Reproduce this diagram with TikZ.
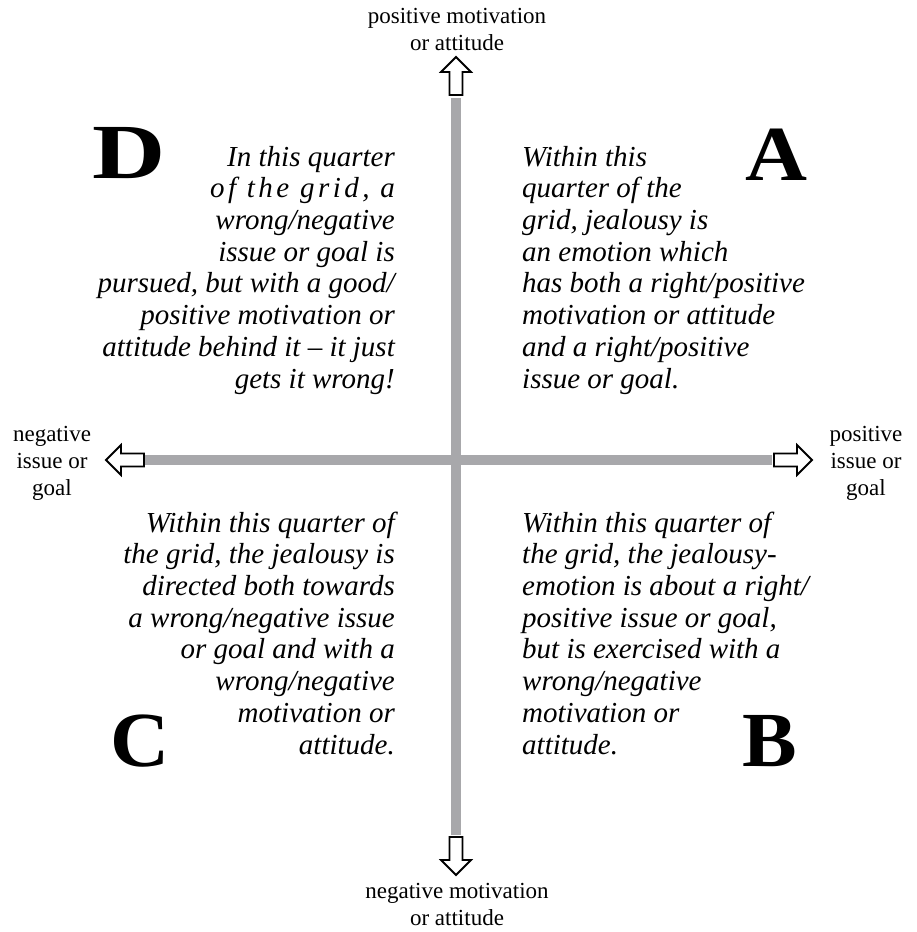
\documentclass[tikz,border=0pt]{standalone}
\usepackage{fontspec}
\setmainfont{Liberation Serif}
\usetikzlibrary{positioning}
\definecolor{axisgray}{RGB}{168,168,171}

\begin{document}
\begin{tikzpicture}[x=1pt,y=-1pt,
  quad/.style={font=\fontsize{29}{31.7}\selectfont\itshape,inner sep=0pt},
  axlabel/.style={font=\fontsize{23}{27}\selectfont,align=center,inner sep=0pt},
  bigletter/.style={font=\fontsize{78}{78}\selectfont\bfseries,inner sep=0pt},
  hollow/.pic={\draw[line width=1.8pt,fill=white] (0,0) -- (-15,-15) -- (-15,-6.5) -- (-38,-6.5) -- (-38,6.5) -- (-15,6.5) -- (-15,15) -- cycle;}]
\useasboundingbox (0,0) rectangle (917,932);
% axes
\coordinate (top) at (456,98);
\coordinate (bot) at (456,835);
\coordinate (lft) at (145,460);
\coordinate (rgt) at (772,460);
\draw[axisgray,line width=10pt] (top) -- (bot);
\draw[axisgray,line width=10pt] (lft) -- (rgt);
\pic[rotate=90] at (456,57) {hollow};
\pic[rotate=-90] at (456,875) {hollow};
\pic[rotate=180] at (106,460) {hollow};
\pic at (812,460) {hollow};
% axis labels (base = last line)
\node[axlabel,anchor=base] (posmot) at (457,50) {positive motivation\\or attitude};
\node[axlabel,anchor=base] (negmot) at (457,925) {negative motivation\\or attitude};
\node[axlabel,anchor=base] (negiss) at (52,495) {negative\\issue or\\goal};
\node[axlabel,anchor=base] (posiss) at (866,495) {positive\\issue or\\goal};
% quarters
\node[bigletter,anchor=base west,xscale=1.3] (qd) at (92,178) {D};
\node[bigletter,anchor=base east,xscale=1.1] (qa) at (808,180) {A};
\node[bigletter,anchor=base west,xscale=1.05] (qc) at (110,766) {C};
\node[bigletter,anchor=base east,xscale=1.05] (qb) at (797,766) {B};
\node[quad,align=right,anchor=base east] (txtd) at (395,388) {In this quarter\\{\addfontfeature{LetterSpace=12}of the grid, a}\\wrong/negative\\issue or goal is\\pursued, but with a good/\\positive motivation or\\attitude behind it -- it just\\gets it wrong!};
\node[quad,align=left,anchor=base west] (txta) at (522,388) {Within this\\quarter of the\\grid, jealousy is\\an emotion which\\has both a right/positive\\motivation or attitude\\and a right/positive\\issue or goal.};
\node[quad,align=right,anchor=base east] (txtc) at (395,754) {Within this quarter of\\the grid, the jealousy is\\directed both towards\\a wrong/negative issue\\or goal and with a\\wrong/negative\\motivation or\\attitude.};
\node[quad,align=left,anchor=base west] (txtb) at (522,754) {Within this quarter of\\the grid, the jealousy-\\emotion is about a right/\\positive issue or goal,\\but is exercised with a\\wrong/negative\\motivation or\\attitude.};
\end{tikzpicture}
\end{document}
